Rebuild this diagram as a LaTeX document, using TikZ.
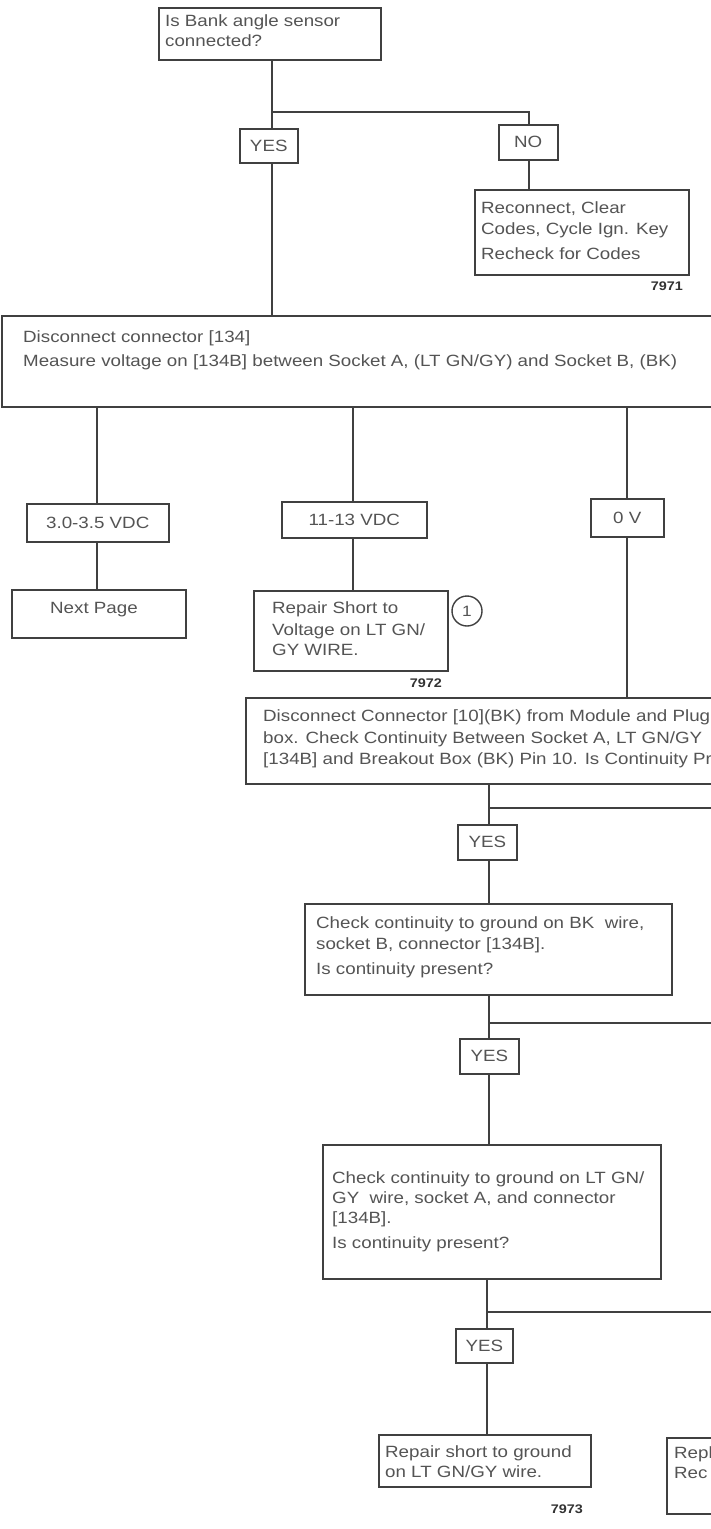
\documentclass[tikz,border=0pt]{standalone}
\usepackage{fontspec}
\setmainfont{Liberation Sans}[FakeStretch=1.15]
\begin{document}
\begin{tikzpicture}[x=1pt,y=-1pt,
  box/.style={draw=linec,line width=1.5pt,rectangle,inner sep=0pt,anchor=north west,font=\fontsize{16.3}{20}\selectfont,text=txtc},
  txt/.style={inner sep=0pt,anchor=base west,font=\fontsize{16.3}{20}\selectfont,text=txtc},
  num/.style={inner sep=0pt,anchor=base east,font=\bfseries\fontsize{12.5}{14}\selectfont,text=black!80},
  conn/.style={draw=linec,line width=1.3pt}]
\definecolor{linec}{gray}{0.25}
\definecolor{txtc}{gray}{0.33}
\useasboundingbox (0,0) rectangle (711,1529);
\clip (0,0) rectangle (711,1529);
\fill[white] (0,0) rectangle (711,1529);

% boxes
\node[box,minimum width=222pt,minimum height=52pt] (top) at (158,7) {};
\node[box,minimum width=58pt,minimum height=34pt] (yes1) at (239,128) {YES};
\node[box,minimum width=59pt,minimum height=35pt] (no1) at (498,124) {NO};
\node[box,minimum width=214pt,minimum height=85pt] (rec) at (474,189) {};
\node[box,minimum width=730pt,minimum height=91pt] (big1) at (1,315) {};
\node[box,minimum width=142pt,minimum height=38pt] (v1) at (26,503) {3.0-3.5 VDC};
\node[box,minimum width=145pt,minimum height=36pt] (v2) at (281,501) {11-13 VDC};
\node[box,minimum width=73pt,minimum height=38pt] (v3) at (590,498) {0 V};
\node[box,minimum width=174pt,minimum height=48pt] (np) at (11,589) {};
\node[box,minimum width=194pt,minimum height=80pt] (rs) at (253,590) {};
\node[box,minimum width=480pt,minimum height=86pt] (big2) at (245,697) {};
\node[box,minimum width=59pt,minimum height=35pt] (yes2) at (457,824) {YES};
\node[box,minimum width=367pt,minimum height=91pt] (chk1) at (304,903) {};
\node[box,minimum width=59pt,minimum height=35pt] (yes3) at (459,1038) {YES};
\node[box,minimum width=338pt,minimum height=134pt] (chk2) at (322,1144) {};
\node[box,minimum width=57pt,minimum height=34pt] (yes4) at (455,1328) {YES};
\node[box,minimum width=212pt,minimum height=52pt] (rg) at (378,1434) {};
\node[box,minimum width=60pt,minimum height=76pt] (rp) at (666,1437) {};
\node[draw=linec,line width=1.4pt,circle,minimum size=30pt,inner sep=0pt,font=\fontsize{15}{17}\selectfont,text=txtc] (c1n) at (467,611) {1};

% texts
\node[txt] (t1a) at (165,26) {Is Bank angle sensor};
\node[txt] (t1b) at (165,46) {connected?};
\node[txt] (t2a) at (481,213) {Reconnect, Clear};
\node[txt] (t2b) at (481,234) {Codes, Cycle Ign. Key};
\node[txt] (t2c) at (481,259) {Recheck for Codes};
\node[txt] (t3a) at (23,342) {Disconnect connector [134]};
\node[txt] (t3b) at (23,366) {Measure voltage on [134B] between Socket A, (LT GN/GY) and Socket B, (BK)};
\node[txt] (t4a) at (50,613) {Next Page};
\node[txt] (t5a) at (272,613) {Repair Short to};
\node[txt] (t5b) at (272,635) {Voltage on LT GN/};
\node[txt] (t5c) at (272,655) {GY WIRE.};
\node[txt] (t6a) at (263,721) {Disconnect Connector [10](BK) from Module and Plug};
\node[txt] (t6b) at (263,743) {box. Check Continuity Between Socket A, LT GN/GY};
\node[txt] (t6c) at (263,764) {[134B] and Breakout Box (BK) Pin 10. Is Continuity Pr};
\node[txt] (t7a) at (316,928) {Check continuity to ground on BK\ \ wire,};
\node[txt] (t7b) at (316,949) {socket B, connector [134B].};
\node[txt] (t7c) at (316,974) {Is continuity present?};
\node[txt] (t8a) at (332,1183) {Check continuity to ground on LT GN/};
\node[txt] (t8b) at (332,1203) {GY\ \ wire, socket A, and connector};
\node[txt] (t8c) at (332,1223) {[134B].};
\node[txt] (t8d) at (332,1248) {Is continuity present?};
\node[txt] (t9a) at (385,1457) {Repair short to ground};
\node[txt] (t9b) at (385,1477) {on LT GN/GY wire.};
\node[txt] (t10a) at (674,1458) {Repl};
\node[txt] (t10b) at (674,1478) {Rec};

\node[num] (n1) at (683,290) {7971};
\node[num] (n2) at (442,687) {7972};
\node[num] (n3) at (583,1513) {7973};

% connectors
\coordinate (j1) at (272,112);
\coordinate (j1n) at (529,112);
\draw[conn] (top.south -| j1) -- (yes1.north -| j1);
\draw[conn] (j1) -- (j1n) -- (no1.north -| j1n);
\draw[conn] (no1.south -| j1n) -- (rec.north -| j1n);
\draw[conn] (yes1.south -| j1) -- (big1.north -| j1);

\coordinate (x1) at (97,0);
\coordinate (x2) at (353,0);
\coordinate (x3) at (627,0);
\draw[conn] (big1.south -| x1) -- (v1.north -| x1);
\draw[conn] (big1.south -| x2) -- (v2.north -| x2);
\draw[conn] (big1.south -| x3) -- (v3.north -| x3);
\draw[conn] (v1.south -| x1) -- (np.north -| x1);
\draw[conn] (v2.south -| x2) -- (rs.north -| x2);
\draw[conn] (v3.south -| x3) -- (big2.north -| x3);

\coordinate (x4) at (489,0);
\coordinate (x5) at (487,0);
\coordinate (j2) at (489,808);
\coordinate (j2e) at (711,808);
\coordinate (j3) at (489,1023);
\coordinate (j3e) at (711,1023);
\coordinate (j4) at (487,1312);
\coordinate (j4e) at (711,1312);
\draw[conn] (big2.south -| x4) -- (yes2.north -| x4);
\draw[conn] (j2) -- (j2e);
\draw[conn] (yes2.south -| x4) -- (chk1.north -| x4);
\draw[conn] (chk1.south -| x4) -- (yes3.north -| x4);
\draw[conn] (j3) -- (j3e);
\draw[conn] (yes3.south -| x4) -- (chk2.north -| x4);
\draw[conn] (chk2.south -| x5) -- (yes4.north -| x5);
\draw[conn] (j4) -- (j4e);
\draw[conn] (yes4.south -| x5) -- (rg.north -| x5);
\end{tikzpicture}
\end{document}
